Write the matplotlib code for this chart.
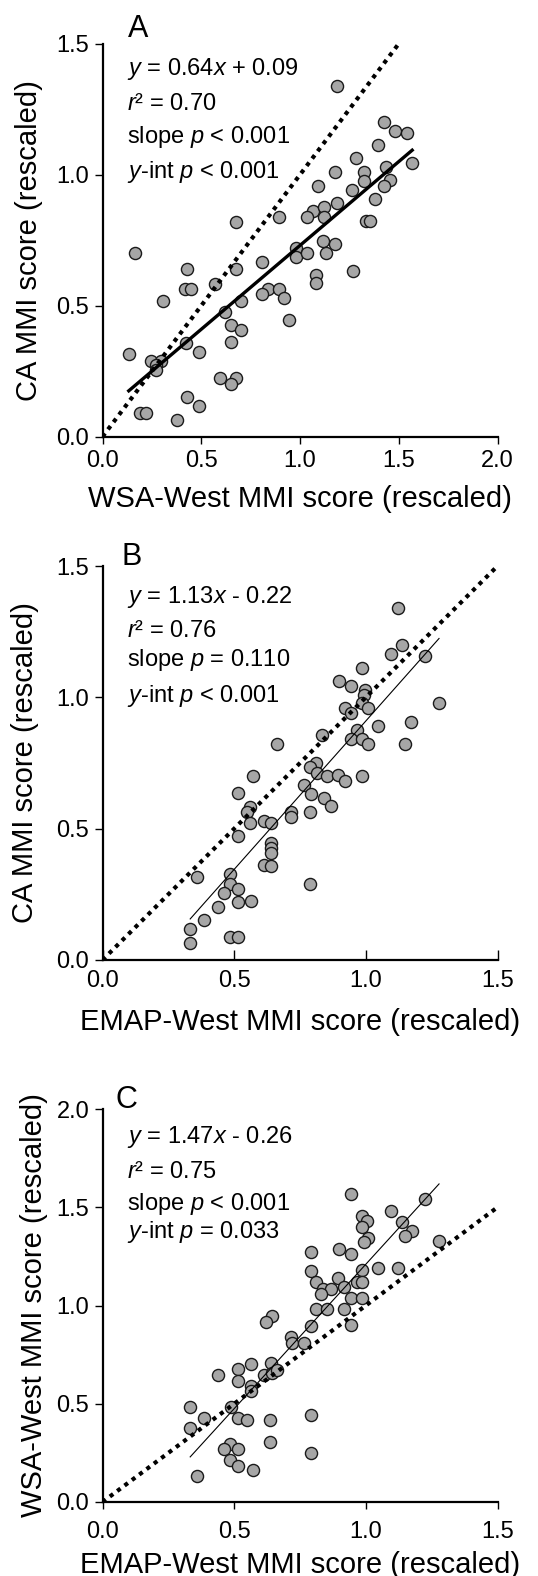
import matplotlib
matplotlib.use('Agg')
import matplotlib.pyplot as plt

plt.rcParams['font.family'] = ['Liberation Sans', 'DejaVu Sans']
plt.rcParams['mathtext.fontset'] = 'custom'
plt.rcParams['mathtext.rm'] = 'Liberation Sans'
plt.rcParams['mathtext.it'] = 'Liberation Sans:italic'

# panel A: WSA-West vs CA
a_x = [1.188, 1.425, 1.480, 1.540, 1.396, 1.568, 1.286, 1.433, 1.325, 1.176, 1.325, 1.455, 1.426,
       1.092, 1.261, 1.379, 1.188, 1.066, 1.120, 1.120, 1.036, 0.894, 1.335, 1.352, 0.674,
       0.167, 0.982, 0.978, 1.033, 1.117, 1.176, 1.134, 0.810, 0.429, 0.674, 1.269, 1.080, 1.080,
       0.568, 0.416, 0.450, 0.838, 0.894, 0.810, 0.919, 0.306, 0.703, 0.618, 0.945, 0.649, 0.703,
       0.421, 0.649, 0.133, 0.487, 0.247, 0.298, 0.272, 0.272, 0.593, 0.674, 0.649, 0.429, 0.487,
       0.188, 0.218, 0.377]
a_y = [1.340, 1.201, 1.167, 1.160, 1.113, 1.046, 1.062, 1.028, 1.012, 1.009, 0.977, 0.980, 0.958,
       0.958, 0.942, 0.908, 0.891, 0.862, 0.877, 0.840, 0.840, 0.840, 0.823, 0.823, 0.821,
       0.702, 0.719, 0.687, 0.700, 0.748, 0.735, 0.700, 0.668, 0.639, 0.639, 0.632, 0.617, 0.588,
       0.582, 0.564, 0.564, 0.564, 0.564, 0.543, 0.531, 0.519, 0.519, 0.475, 0.445, 0.426, 0.407,
       0.359, 0.363, 0.316, 0.325, 0.290, 0.290, 0.274, 0.255, 0.225, 0.223, 0.201, 0.153, 0.118,
       0.089, 0.089, 0.064]

# panel B: EMAP-West vs CA
b_x = [1.122, 1.139, 1.095, 1.226, 0.986, 0.899, 0.942, 0.996, 0.992, 0.984, 1.009, 1.278, 0.920,
       0.942, 1.173, 1.047, 0.965, 0.832, 0.942, 0.984, 1.009, 1.148, 0.664,
       0.811, 0.788, 0.813, 0.853, 0.895, 0.920, 0.986, 0.571, 0.765, 0.792, 0.513, 0.842, 0.867,
       0.561, 0.548, 0.716, 0.716, 0.788, 0.561, 0.614, 0.639, 0.513, 0.639, 0.639, 0.639, 0.614,
       0.639, 0.788, 0.359, 0.485, 0.485, 0.513, 0.460, 0.513, 0.563, 0.437, 0.384, 0.333, 0.333,
       0.485, 0.513]
b_y = [1.339, 1.199, 1.165, 1.157, 1.113, 1.062, 1.043, 1.028, 1.009, 0.977, 0.958, 0.977, 0.960,
       0.939, 0.907, 0.891, 0.876, 0.857, 0.840, 0.840, 0.822, 0.822, 0.822,
       0.751, 0.736, 0.713, 0.702, 0.704, 0.683, 0.702, 0.702, 0.666, 0.632, 0.637, 0.615, 0.587,
       0.581, 0.562, 0.564, 0.543, 0.564, 0.520, 0.529, 0.520, 0.473, 0.447, 0.425, 0.406, 0.362,
       0.358, 0.289, 0.315, 0.326, 0.289, 0.270, 0.256, 0.222, 0.226, 0.203, 0.152, 0.118, 0.066,
       0.089, 0.089]

# panel C: EMAP-West vs WSA-West
c_x = [0.942, 1.226, 1.095, 0.986, 1.005, 1.139, 0.984, 1.175, 1.148, 1.009, 0.992, 1.278, 0.792,
       0.899, 0.942, 0.790, 0.986, 1.047, 1.122, 0.811, 0.895, 0.965, 0.987, 0.918, 0.838, 0.867,
       0.830, 0.942, 0.986, 0.811, 0.853, 0.918, 0.942, 0.790, 0.643, 0.621, 0.716,
       0.718, 0.766, 0.563, 0.513, 0.639, 0.437, 0.513, 0.615, 0.643, 0.664, 0.563, 0.563, 0.333,
       0.487, 0.384, 0.513, 0.550, 0.636, 0.790, 0.333, 0.485, 0.462, 0.513, 0.636, 0.790, 0.485,
       0.513, 0.571, 0.359]
c_y = [1.567, 1.542, 1.483, 1.455, 1.432, 1.427, 1.401, 1.381, 1.354, 1.342, 1.325, 1.330, 1.274,
       1.288, 1.261, 1.177, 1.181, 1.192, 1.192, 1.121, 1.138, 1.121, 1.121, 1.093, 1.083, 1.084,
       1.059, 1.040, 1.037, 0.981, 0.981, 0.981, 0.901, 0.897, 0.947, 0.918, 0.841,
       0.808, 0.811, 0.702, 0.675, 0.706, 0.646, 0.617, 0.646, 0.655, 0.672, 0.590, 0.566, 0.485,
       0.482, 0.429, 0.429, 0.417, 0.417, 0.443, 0.375, 0.294, 0.268, 0.268, 0.304, 0.248, 0.214,
       0.185, 0.163, 0.132]

fits = [(0.64, 0.09), (1.13, -0.22), (1.47, -0.26)]
stats = [
    [r'$y$ = 0.64$x$ + 0.09', r'$r$² = 0.70', r'slope $p$ < 0.001', r'$y$-int $p$ < 0.001'],
    [r'$y$ = 1.13$x$ - 0.22', r'$r$² = 0.76', r'slope $p$ = 0.110', r'$y$-int $p$ < 0.001'],
    [r'$y$ = 1.47$x$ - 0.26', r'$r$² = 0.75', r'slope $p$ < 0.001', r'$y$-int $p$ = 0.033'],
]
letters = ['A', 'B', 'C']
xlabels = ['WSA-West MMI score (rescaled)', 'EMAP-West MMI score (rescaled)', 'EMAP-West MMI score (rescaled)']
ylabels = ['CA MMI score (rescaled)', 'CA MMI score (rescaled)', 'WSA-West MMI score (rescaled)']
xmax = [2.0, 1.5, 1.5]
ymax = [1.5, 1.5, 2.0]
xticks = [[0.0, 0.5, 1.0, 1.5, 2.0], [0.0, 0.5, 1.0, 1.5], [0.0, 0.5, 1.0, 1.5]]
yticks = [[0.0, 0.5, 1.0, 1.5], [0.0, 0.5, 1.0, 1.5], [0.0, 0.5, 1.0, 1.5, 2.0]]
xs = [a_x, b_x, c_x]
ys = [a_y, b_y, c_y]

# layout (pixels of a 538x1576 figure)
W, H = 538.0, 1576.0
bottoms = [436.7, 960.0, 1502.0]
heights = [393.0, 394.0, 393.0]
text_y = [[0.920, 0.831, 0.747, 0.658], [0.905, 0.821, 0.745, 0.656], [0.913, 0.824, 0.743, 0.671]]
letter_pos = [(0.064, 1.016), (0.049, 1.003), (0.034, 1.002)]
ylab_x = [-0.15, -0.16, -0.137]
xlab_y = [-0.123, -0.122, -0.125]
xtick_dir = ['out', 'in', 'out']
xtick_pad = [4.5, 7, 8.5]
fit_lw = [2.4, 0.8, 0.8]

fig = plt.figure(figsize=(W / 100, H / 100), dpi=100)

for i in range(3):
    ax = fig.add_axes([102.5 / W, (H - bottoms[i]) / H, 395 / W, heights[i] / H])
    ax.scatter(xs[i], ys[i], s=76, facecolor='#a6a6a6', edgecolor='#1a1a1a', linewidth=1.0,
               zorder=2, clip_on=False)
    # 1:1 line
    ax.plot([0, 1.5], [0, 1.5], color='black', lw=3.0, linestyle=(0, (1, 1.2)),
            dash_capstyle='butt', zorder=3)
    # fitted line over the range of the data
    m, b = fits[i]
    x0, x1 = min(xs[i]), max(xs[i])
    ax.plot([x0, x1], [m * x0 + b, m * x1 + b], color='black', lw=fit_lw[i], zorder=4)

    ax.set_xlim(0, xmax[i])
    ax.set_ylim(0, ymax[i])
    ax.set_xticks(xticks[i])
    ax.set_yticks(yticks[i])
    ax.xaxis.set_major_formatter(matplotlib.ticker.FormatStrFormatter('%.1f'))
    ax.yaxis.set_major_formatter(matplotlib.ticker.FormatStrFormatter('%.1f'))
    for side in ['top', 'right']:
        ax.spines[side].set_visible(False)
    for side in ['left', 'bottom']:
        ax.spines[side].set_linewidth(1.6)
    ax.tick_params(axis='y', direction='out', length=6, width=1, labelsize=17, pad=3.5)
    ax.tick_params(axis='x', direction=xtick_dir[i], length=5 if xtick_dir[i] == 'out' else 7,
                   width=1, labelsize=17, pad=xtick_pad[i])

    ax.set_xlabel(xlabels[i], fontsize=21)
    ax.set_ylabel(ylabels[i], fontsize=21)
    ax.xaxis.set_label_coords(0.5, xlab_y[i])
    ax.yaxis.set_label_coords(ylab_x[i], 0.5)

    ax.text(letter_pos[i][0], letter_pos[i][1], letters[i], transform=ax.transAxes,
            fontsize=22, va='baseline', ha='left')
    for t, yy in zip(stats[i], text_y[i]):
        ax.text(0.061, yy, t, transform=ax.transAxes, fontsize=17, va='baseline', ha='left')

plt.savefig('out.png', dpi=100)
